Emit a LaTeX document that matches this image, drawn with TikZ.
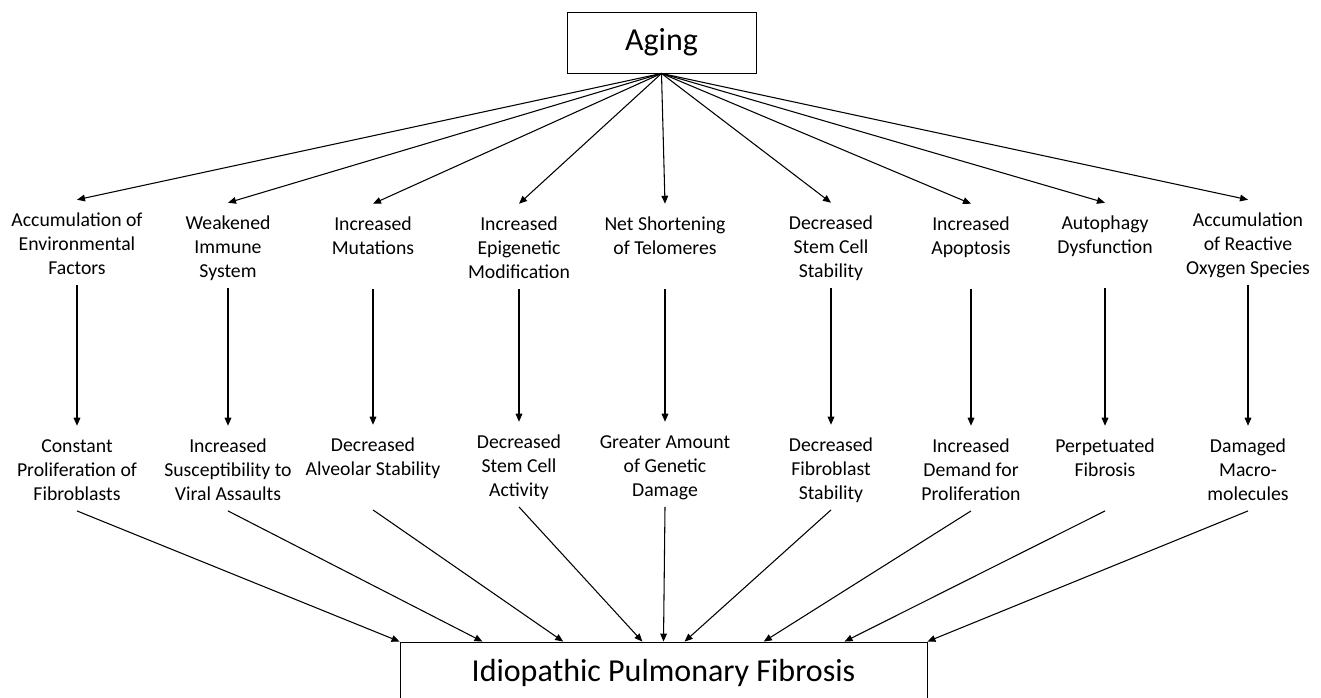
\documentclass[tikz,border=0pt]{standalone}
\usepackage{fontspec}
\setmainfont{Carlito}
\usetikzlibrary{arrows.meta,calc}

% stacked lines, the first line carries the baseline
\newcommand{\lines}[1]{\begin{tabular}[t]{@{}c@{}}#1\end{tabular}}

\tikzset{
  >={Triangle[length=6pt,width=5pt]},
  bigbox/.style={draw, line width=0.65pt, font=\fontsize{24}{28.8}\selectfont},
  factor/.style={anchor=base, inner sep=0pt, text height=19.5pt, text depth=44pt,
    font=\fontsize{14.8}{18}\selectfont},
  link/.style={->, line width=0.8pt}
}

\begin{document}
\begin{tikzpicture}[x=0.75pt, y=-0.75pt]
% Fix the page to the size of the figure
\clip (0,0) rectangle (1321,697);
% The cause at the top and the disease at the bottom
\node[bigbox, minimum width=141.75pt, minimum height=45.75pt] (aging) at (661.5,42.5) {Aging};
\node[bigbox, minimum width=395.25pt, minimum height=46.5pt] (ipf) at (663.5,673) {Idiopathic Pulmonary Fibrosis};
% First row: the changes that come with aging
\node[factor] (env) at (77,226) {\lines{Accumulation of\\Environmental\\Factors}};
\node[factor] (immune) at (228,229) {\lines{Weakened\\Immune\\System}};
\node[factor] (mutation) at (373,230) {\lines{Increased\\Mutations}};
\node[factor] (epigen) at (519,230) {\lines{Increased\\Epigenetic\\Modification}};
\node[factor] (telomere) at (665,230) {\lines{Net Shortening\\of Telomeres}};
\node[factor] (stemcell) at (831,229) {\lines{Decreased\\Stem Cell\\Stability}};
\node[factor] (apoptosis) at (971,230) {\lines{Increased\\Apoptosis}};
\node[factor] (autophagy) at (1105,229) {\lines{Autophagy\\Dysfunction}};
\node[factor] (ros) at (1248,226) {\lines{Accumulation\\of Reactive\\Oxygen Species}};
% Second row: what each change leads to
\node[factor] (prolif) at (77,452) {\lines{Constant\\Proliferation of\\Fibroblasts}};
\node[factor] (viral) at (228,452) {\lines{Increased\\Susceptibility to\\Viral Assaults}};
\node[factor] (alveolar) at (373,451) {\lines{Decreased\\Alveolar Stability}};
\node[factor] (stemact) at (519,448) {\lines{Decreased\\Stem Cell\\Activity}};
\node[factor] (genetic) at (665,448) {\lines{Greater Amount\\of Genetic\\Damage}};
\node[factor] (fibroblast) at (831,451) {\lines{Decreased\\Fibroblast\\Stability}};
\node[factor] (demand) at (971,452) {\lines{Increased\\Demand for\\Proliferation}};
\node[factor] (perpetual) at (1105,452) {\lines{Perpetuated\\Fibrosis}};
\node[factor] (macro) at (1248,452) {\lines{Damaged\\Macro-\\molecules}};
% Aging fans out to the first row
\draw[link] (aging.south) -- (env.north);
\draw[link] (aging.south) -- (immune.north);
\draw[link] (aging.south) -- (mutation.north);
\draw[link] (aging.south) -- (epigen.north);
\draw[link] (aging.south) -- (telomere.north);
\draw[link] (aging.south) -- (stemcell.north);
\draw[link] (aging.south) -- (apoptosis.north);
\draw[link] (aging.south) -- (autophagy.north);
\draw[link] (aging.south) -- (ros.north);
% Straight down from row to row
\draw[link] (env.south) -- (prolif.north);
\draw[link] (immune.south) -- (viral.north);
\draw[link] (mutation.south) -- (alveolar.north);
\draw[link] (epigen.south) -- (stemact.north);
\draw[link] (telomere.south) -- (genetic.north);
\draw[link] (stemcell.south) -- (fibroblast.north);
\draw[link] (apoptosis.south) -- (demand.north);
\draw[link] (autophagy.south) -- (perpetual.north);
\draw[link] (ros.south) -- (macro.north);
% Everything ends in the disease
\draw[link] (prolif.south) -- (ipf.north west);
\draw[link] (viral.south) -- ($(ipf.north west)!.157!(ipf.north east)$);
\draw[link] (alveolar.south) -- ($(ipf.north west)!.31!(ipf.north east)$);
\draw[link] (stemact.south) -- ($(ipf.north west)!.46!(ipf.north east)$);
\draw[link] (genetic.south) -- (ipf.north);
\draw[link] (fibroblast.south) -- ($(ipf.north west)!.54!(ipf.north east)$);
\draw[link] (demand.south) -- ($(ipf.north west)!.69!(ipf.north east)$);
\draw[link] (perpetual.south) -- ($(ipf.north west)!.843!(ipf.north east)$);
\draw[link] (macro.south) -- (ipf.north east);
\end{tikzpicture}
\end{document}
